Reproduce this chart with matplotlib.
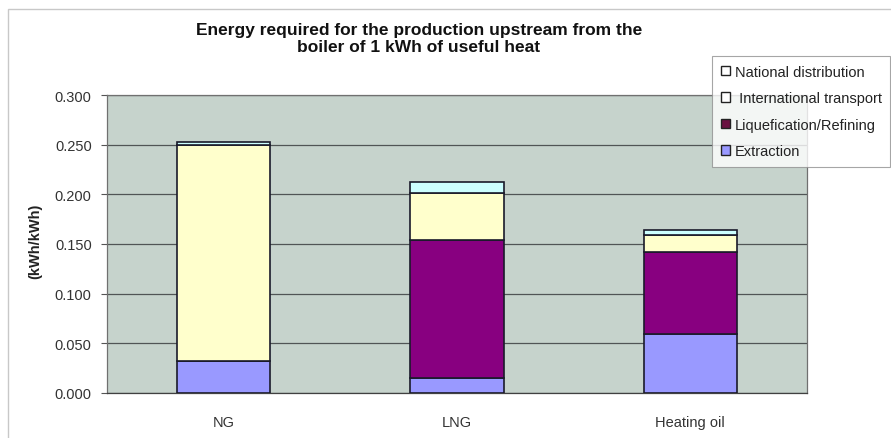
import matplotlib
matplotlib.use("Agg")
import matplotlib.pyplot as plt
from matplotlib.patches import Rectangle, Patch

plt.rcParams['font.family'] = ['Liberation Sans', 'DejaVu Sans']

categories = ["NG", "LNG", "Heating oil"]
extraction = [0.032, 0.015, 0.059]
liquefaction_refining = [0.000, 0.139, 0.083]
international_transport = [0.218, 0.047, 0.017]
national_distribution = [0.003, 0.011, 0.005]

series = [
    ("Extraction", extraction, "#9999FF"),
    ("Liquefication/Refining", liquefaction_refining, "#880080"),
    ("International transport", international_transport, "#FFFFCC"),
    ("National distribution", national_distribution, "#CCFFFF"),
]
yticks = [0.0, 0.05, 0.10, 0.15, 0.20, 0.25, 0.30]

fig = plt.figure(figsize=(8.91, 4.39), dpi=100)
fig.patch.set_facecolor("white")

# chart-area frame
fig.add_artist(Rectangle((8 / 891, -0.1), 1.2, 1 - 10 / 439 + 0.1,
                         transform=fig.transFigure, fill=False,
                         edgecolor="#C8C8C8", linewidth=1.0))

ax = fig.add_axes([107 / 891, 1 - 394 / 439, 700 / 891, 298 / 439])
ax.set_facecolor("#C6D3CC")

x = list(range(len(categories)))
bottom = [0.0] * len(categories)
for name, vals, color in series:
    ax.bar(x, vals, width=0.40, bottom=bottom, color=color,
           edgecolor="#1A1A2A", linewidth=1.2, zorder=3)
    bottom = [b + v for b, v in zip(bottom, vals)]

ax.set_xlim(-0.5, 2.5)
ax.set_ylim(0, 0.30)
ax.set_yticks(yticks)
ax.set_yticklabels([f"{t:.3f}" for t in yticks], fontsize=10.5, color="#333333")
ax.set_xticks(x)
ax.set_xticklabels(categories, fontsize=10.5, color="#333333")
ax.tick_params(axis="x", length=0, pad=16)
ax.tick_params(axis="y", length=4, width=0.8, color="#555555", pad=7)
ax.yaxis.grid(True, color="#505555", linewidth=0.9, zorder=1)
ax.set_axisbelow(True)
for s in ax.spines.values():
    s.set_color("#707070")
    s.set_linewidth(0.9)
ax.spines["bottom"].set_color("#404040")

fig.text(35 / 891, 1 - 241 / 439, "(kWh/kWh)", rotation=90, ha="center",
         va="center", fontsize=10.5, fontweight="bold", color="#222222")

fig.text(419 / 891, 1 - 39 / 439,
         "Energy required for the production upstream from the\nboiler of 1 kWh of useful heat",
         ha="center", va="center", fontsize=12.5, fontweight="bold",
         color="#111111", linespacing=1.1)

handles = [Patch(facecolor="white", edgecolor="#222222", label="National distribution"),
           Patch(facecolor="white", edgecolor="#222222", label=" International transport"),
           Patch(facecolor="#6A1040", edgecolor="#222222", label="Liquefication/Refining"),
           Patch(facecolor="#9999FF", edgecolor="#222222", label="Extraction")]
leg = fig.legend(handles=handles, loc="upper left",
                 bbox_to_anchor=(712 / 891, 1 - 57 / 439),
                 bbox_transform=fig.transFigure, fontsize=10.5,
                 frameon=True, fancybox=False, handlelength=0.65,
                 handleheight=0.65, handletextpad=0.3, labelspacing=0.85,
                 borderpad=0.6, borderaxespad=0)
leg.get_frame().set_edgecolor("#909090")
leg.get_frame().set_linewidth(0.8)
for t in leg.get_texts():
    t.set_color("#222222")

fig.savefig("out.png", dpi=100)
